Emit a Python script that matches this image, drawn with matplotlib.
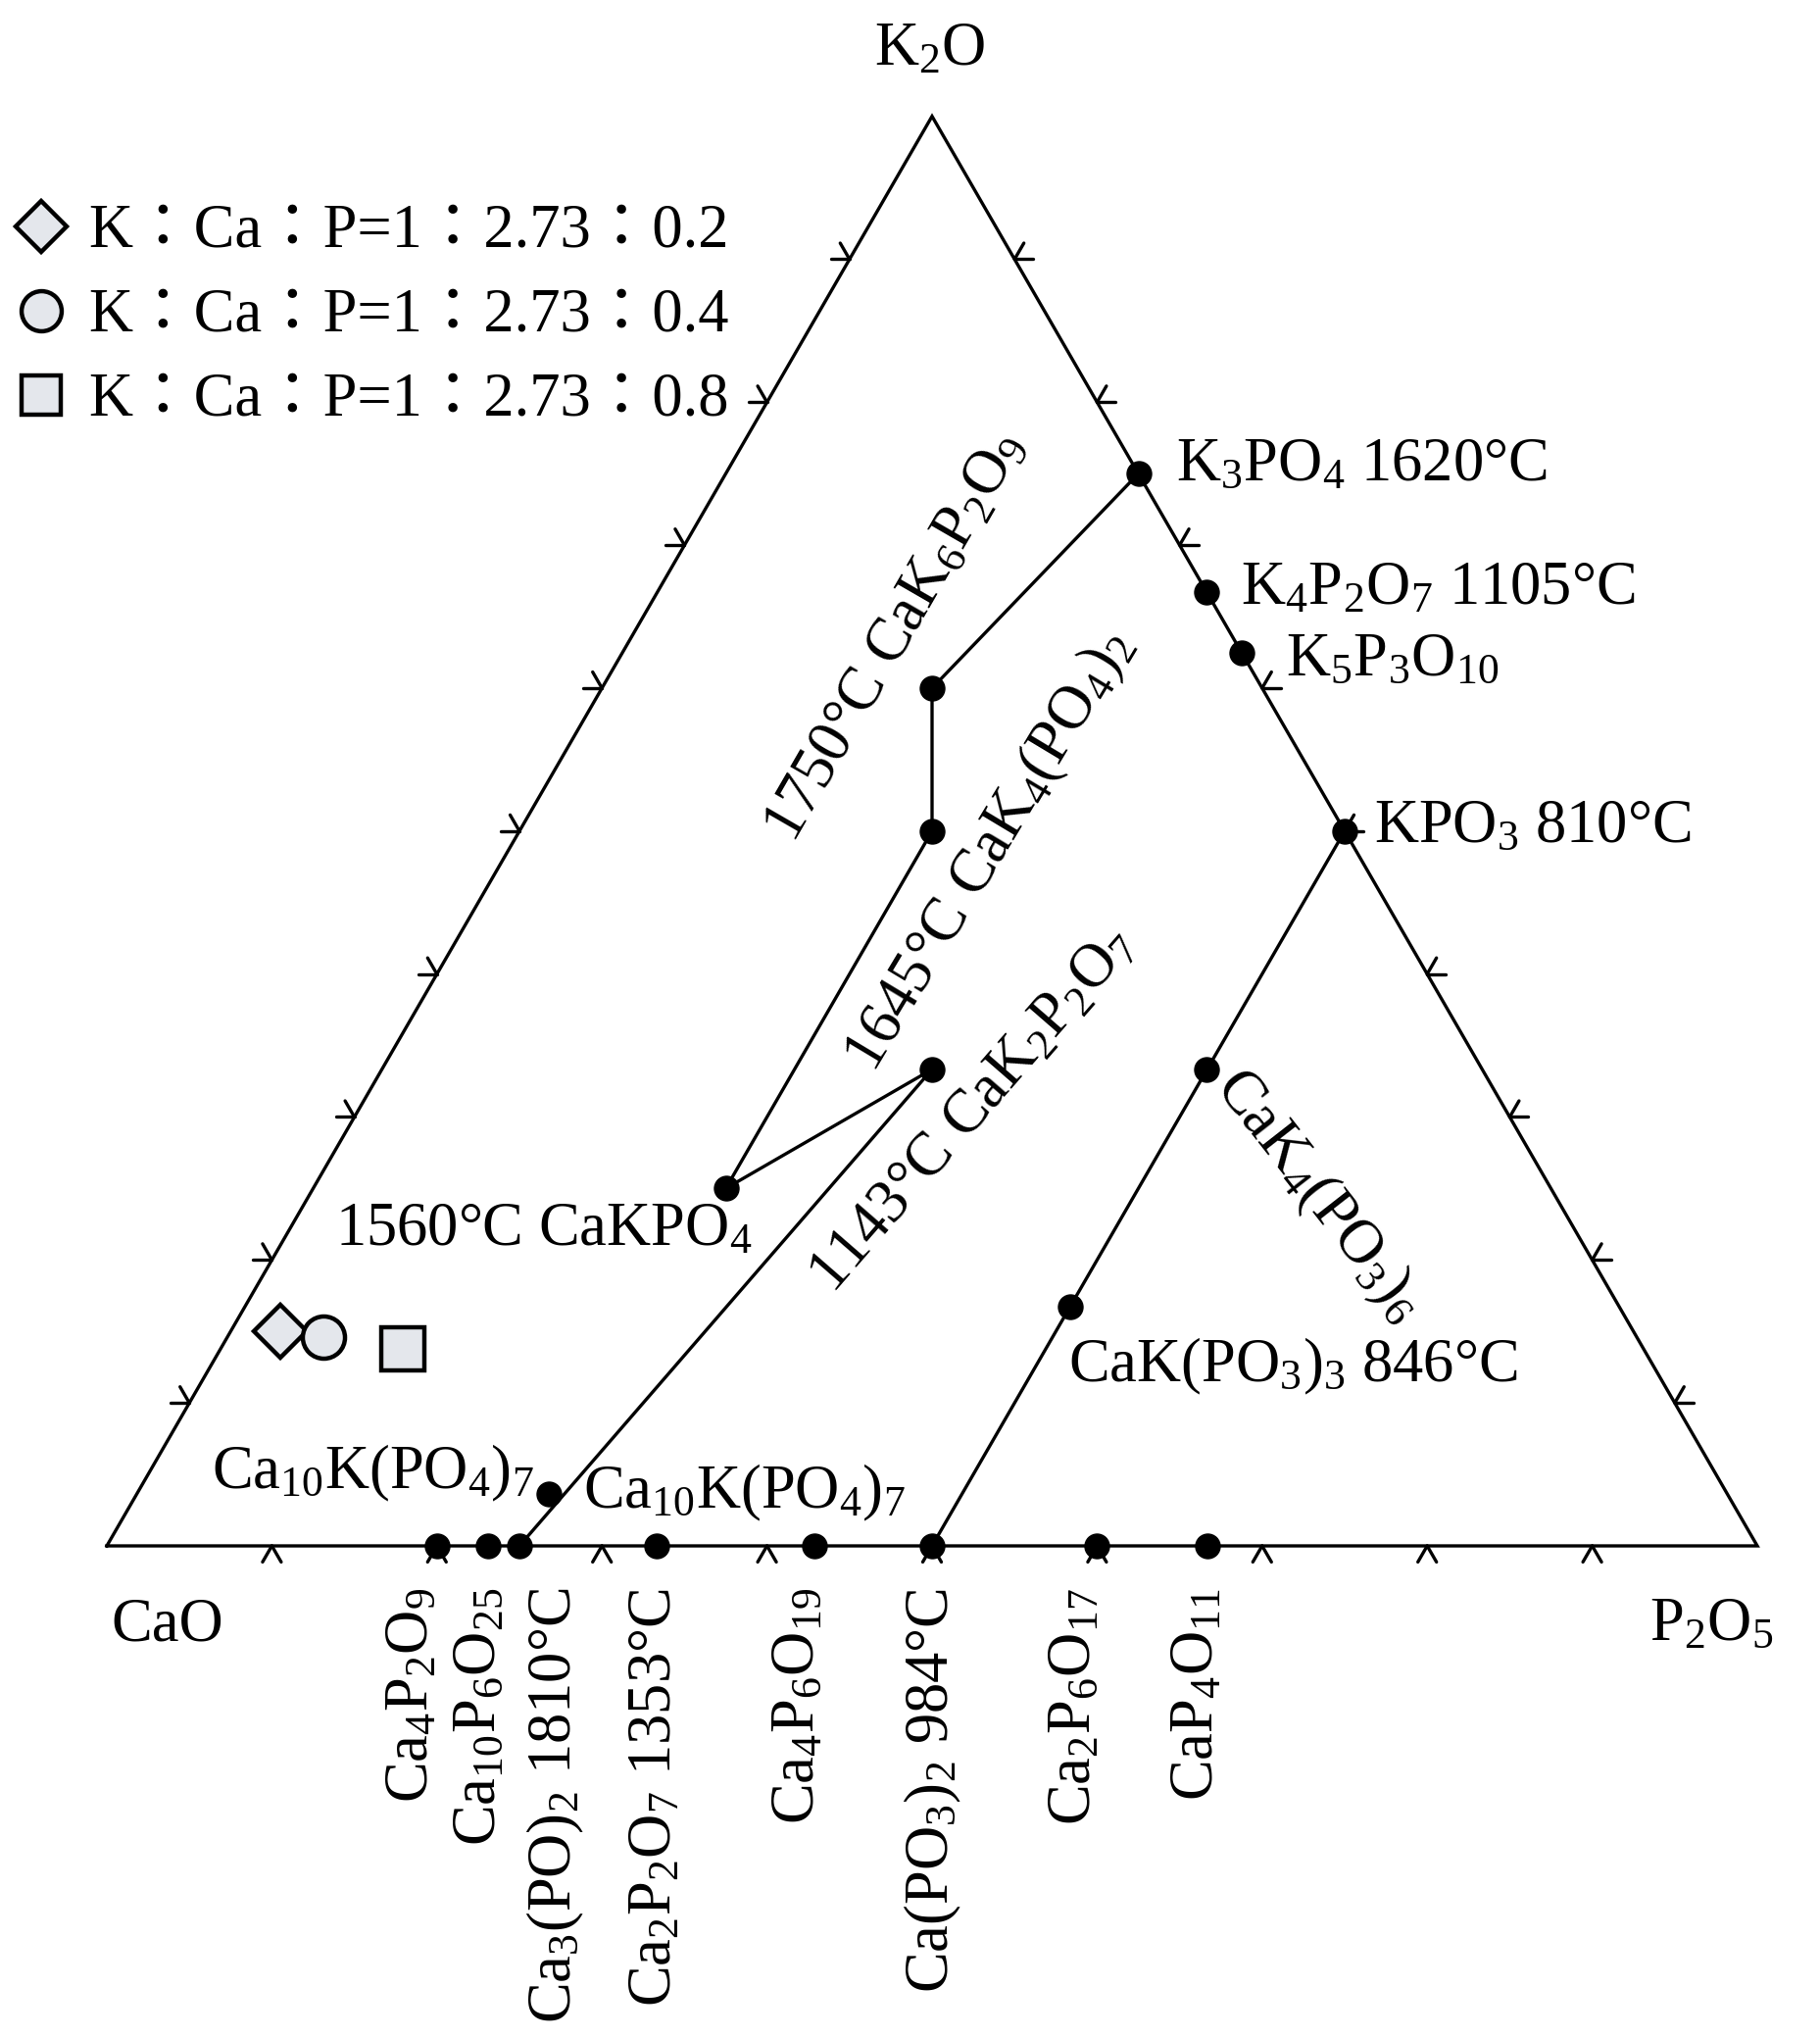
import numpy as np
import matplotlib
matplotlib.use('Agg')
import matplotlib.pyplot as plt

plt.rcParams['font.family'] = ['Liberation Serif', 'Noto Sans CJK TC']
plt.rcParams['mathtext.fontset'] = 'custom'
plt.rcParams['mathtext.rm'] = 'Liberation Serif'
plt.rcParams['mathtext.it'] = 'Liberation Serif:italic'
plt.rcParams['mathtext.bf'] = 'Liberation Serif:bold'

# compositions, mole fractions (CaO, K2O, P2O5)
phase_names = ['K3PO4', 'K4P2O7', 'K5P3O10', 'KPO3',
               'CaK6P2O9', 'CaK4(PO4)2', 'CaK2P2O7', 'CaKPO4', 'Ca10K(PO4)7',
               'CaK4(PO3)6', 'CaK(PO3)3',
               'Ca4P2O9', 'Ca10P6O25', 'Ca3(PO4)2', 'Ca2P2O7', 'Ca4P6O19',
               'Ca(PO3)2', 'Ca2P6O17', 'CaP4O11']
phase_cao = [0, 0, 0, 0,
             0.2, 0.25, 0.333, 0.5, 0.714,
             0.167, 0.333,
             0.8, 0.769, 0.75, 0.667, 0.571, 0.5, 0.4, 0.333]
phase_k2o = [0.75, 0.667, 0.625, 0.5,
             0.6, 0.5, 0.333, 0.25, 0.036,
             0.333, 0.167,
             0, 0, 0, 0, 0, 0, 0, 0]
phase_p2o5 = [0.25, 0.333, 0.375, 0.5,
              0.2, 0.25, 0.333, 0.25, 0.25,
              0.5, 0.5,
              0.2, 0.231, 0.25, 0.333, 0.429, 0.5, 0.6, 0.667]

# tie lines
tie_line_1 = ['K3PO4', 'CaK6P2O9', 'CaK4(PO4)2', 'CaKPO4', 'CaK2P2O7', 'Ca3(PO4)2']
tie_line_2 = ['KPO3', 'CaK4(PO3)6', 'CaK(PO3)3', 'Ca(PO3)2']

# sample ratios K : Ca : P
sample_k = [1, 1, 1]
sample_ca = [2.73, 2.73, 2.73]
sample_p = [0.2, 0.4, 0.8]
sample_markers = ['D', 'o', 's']
sample_sizes = [28, 31, 31]
sample_labels = ['K：Ca：P=1：2.73：0.2', 'K：Ca：P=1：2.73：0.4', 'K：Ca：P=1：2.73：0.8']

tick_fracs = [0.1, 0.2, 0.3, 0.4, 0.5, 0.6, 0.7, 0.8, 0.9]


def tern(cao, k2o, p2o5):
    s = cao + k2o + p2o5
    k = np.asarray(k2o) / s
    p = np.asarray(p2o5) / s
    return p + k / 2, k * np.sqrt(3) / 2


def P(px, py):
    # pixel position in the output image -> data coords (for text placement)
    return (px - 109) / 1684, (1577 - py) / 1684


fig = plt.figure(figsize=(18.57, 20.78), dpi=100)
ax = fig.add_axes([0, 0, 1, 1])
ax.set_xlim(-109 / 1684, (1857 - 109) / 1684)
ax.set_ylim((1577 - 2078) / 1684, 1577 / 1684)
ax.axis('off')

lw = 2.4
h = np.sqrt(3) / 2
ax.plot([0, 1, 0.5, 0], [0, 0, h, 0], color='black', lw=lw, solid_joinstyle='miter')

# chevron ticks on each edge
L = 19 / 1684
edges = [((0, 0), (1, 0), [-60, -120]),      # bottom
         ((0, 0), (0.5, h), [180, 120]),     # left
         ((1, 0), (0.5, h), [0, 60])]        # right
for a, b, angs in edges:
    for t in tick_fracs:
        x0 = a[0] + (b[0] - a[0]) * t
        y0 = a[1] + (b[1] - a[1]) * t
        for ang in angs:
            r = np.deg2rad(ang)
            ax.plot([x0, x0 + L * np.cos(r)], [y0, y0 + L * np.sin(r)],
                    color='black', lw=lw, solid_capstyle='round')

px_, py_ = tern(np.array(phase_cao), np.array(phase_k2o), np.array(phase_p2o5))
pos = {n: (x, y) for n, x, y in zip(phase_names, px_, py_)}

for line in [tie_line_1, tie_line_2]:
    ax.plot([pos[n][0] for n in line], [pos[n][1] for n in line], color='black', lw=lw)

ax.plot(px_, py_, 'o', color='black', ms=18, mec='black', zorder=5)

# samples (oxide basis: K2O = K/2, P2O5 = P/2)
fill = '#e4e7ec'
for k, ca, p, m, s in zip(sample_k, sample_ca, sample_p, sample_markers, sample_sizes):
    sx, sy = tern(ca, k / 2, p / 2)
    ax.plot(sx, sy, marker=m, ms=s, mfc=fill, mec='black', mew=3.2, zorder=6)

fs = 45
# legend
leg_y = [231, 317, 403]
for m, s, lab, yy in zip(sample_markers, sample_sizes, sample_labels, leg_y):
    ax.plot(*P(42, yy), marker=m, ms=s * 0.95, mfc=fill, mec='black', mew=3.2)
    ax.text(*P(90, yy + 21), lab, fontsize=fs, ha='left', va='baseline')

# vertex labels
ax.text(*P(949, 66), 'K$_2$O', fontsize=fs, ha='center', va='baseline')
ax.text(*P(113, 1673), 'CaO', fontsize=fs, ha='left', va='baseline')
ax.text(*P(1683, 1673), 'P$_2$O$_5$', fontsize=fs, ha='left', va='baseline')

# phase labels
flat = [
    ((1200, 490), 'K$_3$PO$_4$ 1620°C'),
    ((1266, 616), 'K$_4$P$_2$O$_7$ 1105°C'),
    ((1312, 689), 'K$_5$P$_3$O$_{10}$'),
    ((1402, 859), 'KPO$_3$ 810°C'),
    ((342, 1270), '1560°C CaKPO$_4$'),
    ((1090, 1409), 'CaK(PO$_3$)$_3$ 846°C'),
    ((216, 1518), 'Ca$_{10}$K(PO$_4$)$_7$'),
    ((595, 1538), 'Ca$_{10}$K(PO$_4$)$_7$'),
]
for (x, y), s in flat:
    ax.text(*P(x, y), s, fontsize=fs, ha='left', va='baseline')

rotated = [
    ((915, 650), '1750°C CaK$_6$P$_2$O$_9$', 60),
    ((1010, 868), '1645°C CaK$_4$(PO$_4$)$_2$', 59),
    ((994, 1133), '1143°C CaK$_2$P$_2$O$_7$', 49),
    ((1345, 1220), 'CaK$_4$(PO$_3$)$_6$', -52),
]
for (x, y), s, r in rotated:
    ax.text(*P(x, y), s, fontsize=fs, ha='center', va='center', rotation=r,
            rotation_mode='anchor')

bottom = [
    (421, 'Ca$_4$P$_2$O$_9$'),
    (490, 'Ca$_{10}$P$_6$O$_{25}$'),
    (567, 'Ca$_3$(PO)$_2$ 1810°C'),
    (669, 'Ca$_2$P$_2$O$_7$ 1353°C'),
    (815, 'Ca$_4$P$_6$O$_{19}$'),
    (952, 'Ca(PO$_3$)$_2$ 984°C'),
    (1097, 'Ca$_2$P$_6$O$_{17}$'),
    (1222, 'CaP$_4$O$_{11}$'),
]
for x, s in bottom:
    ax.text(*P(x, 1620), s, fontsize=fs, ha='center', va='top', rotation=90)

fig.savefig('out.png', dpi=100)
